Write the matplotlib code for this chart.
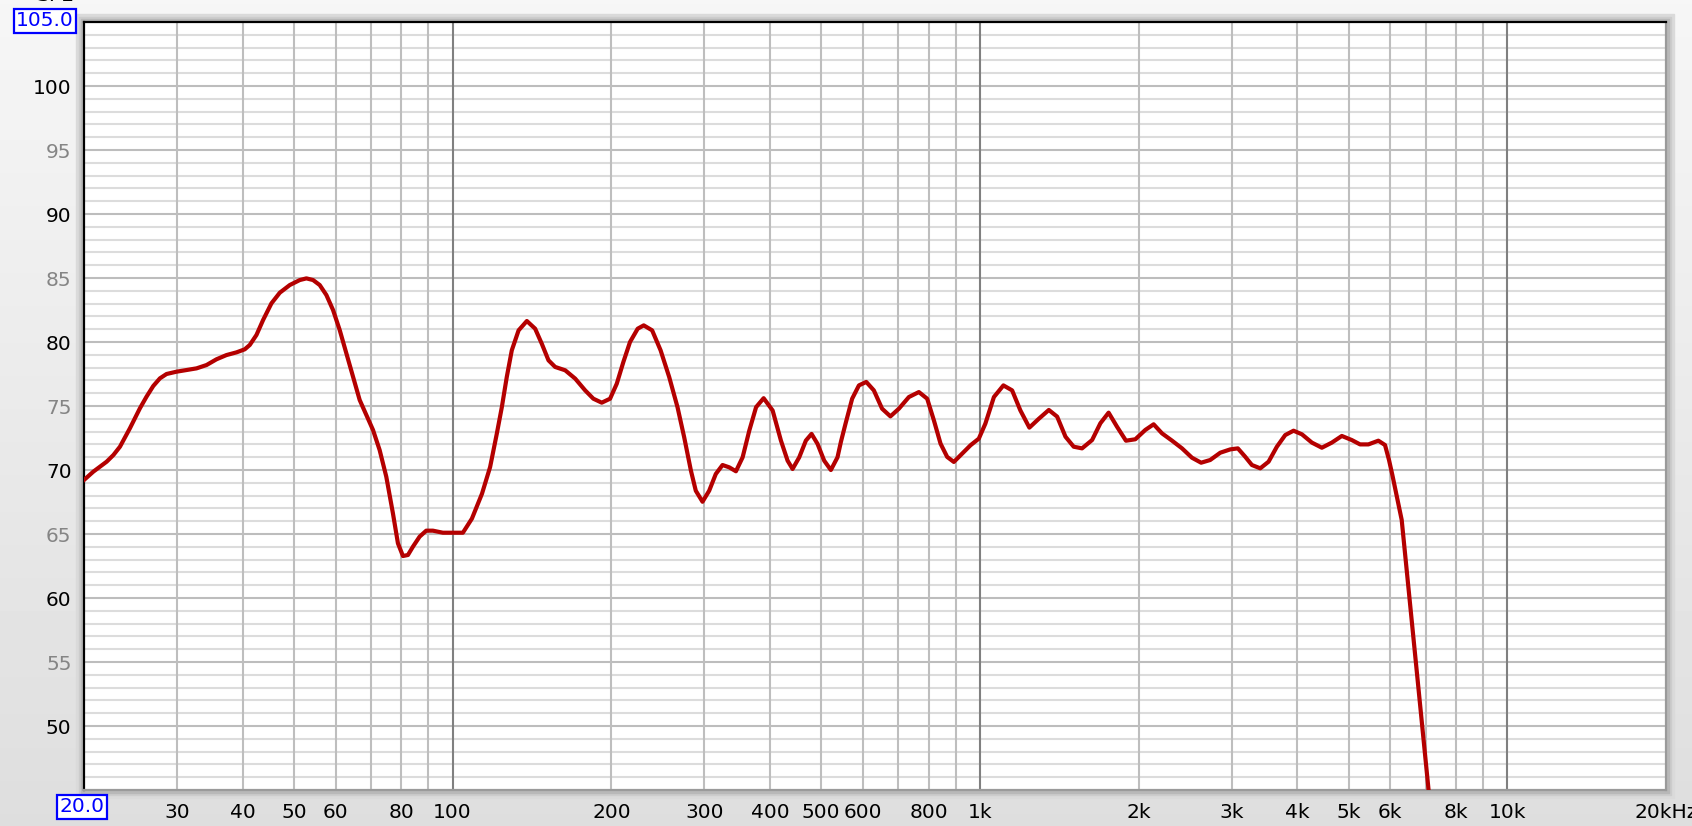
import numpy as np
import matplotlib
matplotlib.use("Agg")
import matplotlib.pyplot as plt
from matplotlib.patches import Rectangle

# frequency response (Hz, dB SPL)
freq = [20, 20.83, 22.08, 22.74, 23.40, 24.44, 25.53, 26.28, 27.06, 27.86, 28.68, 29.95,
        32.69, 34.15, 35.67, 37.26, 38.92, 40.36, 41.25, 42.47, 43.72, 45.34, 47.02, 49.12,
        51.31, 52.82, 54.38, 55.98, 57.63, 59.33, 61.08, 62.88, 64.74, 66.65, 68.61, 70.64,
        72.72, 74.86, 77.07, 78.77, 80.51, 82.29, 84.10, 86.58, 89.13, 91.76, 95.85, 100.1,
        104.6, 108.8, 113.7, 117.8, 121.3, 124.0, 126.7, 129.5, 133.4, 138.3, 143.4, 147.6,
        152.0, 156.5, 163.5, 170.8, 178.4, 184.9, 191.8, 198.9, 204.8, 210.8, 217.0, 224.4,
        230.4, 239.0, 248.0, 257.5, 267.0, 274.9, 283.1, 289.2, 297.8, 306.6, 315.6, 325.0,
        334.6, 344.6, 354.8, 365.3, 376.3, 388.9, 404.5, 419.4, 431.8, 441.3, 454.3, 467.7,
        479.4, 492.1, 506.6, 521.6, 536.9, 545.0, 556.1, 572.4, 589.6, 608.8, 629.3, 652.3,
        676.5, 702.0, 733.3, 766.0, 794.3, 817.9, 842.0, 866.8, 892.3, 925.4, 959.6, 995.2,
        1024, 1063, 1108, 1151, 1193, 1241, 1293, 1351, 1401, 1453, 1506, 1562,
        1632, 1692, 1754, 1819, 1892, 1971, 2059, 2135, 2215, 2314, 2417, 2524,
        2627, 2733, 2856, 2983, 3084, 3184, 3279, 3401, 3527, 3657, 3793, 3933,
        4079, 4261, 4451, 4649, 4856, 5072, 5259, 5453, 5696, 5864, 5967, 6055,
        6127, 6307, 6587, 7093, 7300]
spl = [69.22, 69.87, 70.65, 71.17, 71.82, 73.26, 74.82, 75.73, 76.56, 77.16, 77.50, 77.68,
       77.94, 78.20, 78.65, 78.98, 79.19, 79.43, 79.77, 80.55, 81.72, 83.02, 83.85, 84.45,
       84.84, 84.97, 84.84, 84.45, 83.67, 82.50, 80.94, 79.11, 77.29, 75.47, 74.30, 73.13,
       71.56, 69.48, 66.61, 64.27, 63.28, 63.36, 64.01, 64.79, 65.26, 65.26, 65.10, 65.10,
       65.10, 66.2, 68.15, 70.23, 72.84, 74.92, 77.27, 79.35, 80.91, 81.64, 81.04, 79.87,
       78.57, 78.05, 77.79, 77.14, 76.22, 75.57, 75.26, 75.57, 76.74, 78.44, 80.0, 81.04,
       81.3, 80.91, 79.35, 77.26, 74.91, 72.56, 69.95, 68.38, 67.52, 68.38, 69.69, 70.39,
       70.21, 69.9, 70.99, 73.08, 74.91, 75.61, 74.65, 72.3, 70.73, 70.08, 70.99, 72.3,
       72.82, 72.04, 70.73, 70.0, 70.99, 72.2, 73.62, 75.57, 76.61, 76.88, 76.22, 74.79,
       74.19, 74.79, 75.7, 76.09, 75.57, 73.88, 72.06, 71.02, 70.63, 71.28, 71.93, 72.45,
       73.62, 75.7, 76.61, 76.22, 74.66, 73.31, 74.0, 74.69, 74.17, 72.6, 71.82, 71.69,
       72.34, 73.65, 74.48, 73.39, 72.29, 72.4, 73.13, 73.57, 72.86, 72.29, 71.69, 70.96,
       70.57, 70.78, 71.35, 71.61, 71.69, 71.04, 70.39, 70.13, 70.65, 71.82, 72.73, 73.07,
       72.79, 72.14, 71.74, 72.14, 72.66, 72.34, 72.0, 72.0, 72.29, 71.95, 70.78, 69.61,
       68.6, 66.1, 58.3, 45.0, 39.8]

xtick_vals = [30, 40, 50, 60, 80, 100, 200, 300, 400, 500, 600, 800,
              1000, 2000, 3000, 4000, 5000, 6000, 8000, 10000, 20000]
xtick_labels = ["30", "40", "50", "60", "80", "100", "200", "300", "400", "500", "600", "800",
                "1k", "2k", "3k", "4k", "5k", "6k", "8k", "10k", "20kHz"]
ytick_vals = [50, 55, 60, 65, 70, 75, 80, 85, 90, 95, 100]

W, H = 1692, 826
fig = plt.figure(figsize=(W / 100, H / 100), dpi=100)

# grey gradient background
bg = fig.add_axes([0, 0, 1, 1], zorder=-10)
grad = np.linspace(0.965, 0.87, 200).reshape(-1, 1)
bg.imshow(grad, cmap="gray", vmin=0, vmax=1, aspect="auto", extent=[0, 1, 0, 1])
bg.set_axis_off()

L, R, T, B = 84, 1666, 22, 790
def fx(p):
    return p / W
def fy(p):
    return 1 - p / H

# frame shadow
for pad, col in [(8, "#dadada"), (5, "#cccccc"), (3, "#b8b8b8")]:
    fig.patches.append(Rectangle((fx(L - pad), fy(B + pad)), fx(R - L + 2 * pad), (B - T + 2 * pad) / H,
                                 transform=fig.transFigure, color=col, zorder=-5))

ax = fig.add_axes([fx(L), fy(B), fx(R - L), (B - T) / H])
ax.set_xscale("log")
ax.set_xlim(20, 20000)
ax.set_ylim(45, 105)

# horizontal grid
for v in range(46, 105):
    major = v % 5 == 0
    ax.axhline(v, color="#bdbdbd" if major else "#dcdcdc", lw=1.5, zorder=1)
# vertical grid
for dec in [10, 100, 1000, 10000]:
    for m in range(1, 10):
        f = dec * m
        if f <= 20 or f >= 20000:
            continue
        ax.axvline(f, color="#808080" if m == 1 else "#bebebe", lw=1.5, zorder=1)

ax.plot(freq, spl, color="#b40000", lw=3, solid_joinstyle="round", zorder=3)

ax.set_xticks(xtick_vals)
ax.set_xticklabels(xtick_labels)
ax.xaxis.set_minor_locator(matplotlib.ticker.NullLocator())
ax.set_yticks(ytick_vals)
ax.set_yticklabels([str(v) for v in ytick_vals])
for lab, v in zip(ax.get_yticklabels(), ytick_vals):
    lab.set_color("black" if v % 10 == 0 else "#858585")
ax.tick_params(axis="both", length=0, labelsize=14.5)
ax.tick_params(axis="x", pad=9)
ax.tick_params(axis="y", pad=9)

for s in ["left", "top"]:
    ax.spines[s].set_color("black")
    ax.spines[s].set_linewidth(1.6)
for s in ["right", "bottom"]:
    ax.spines[s].set_color("#9a9a9a")
    ax.spines[s].set_linewidth(1.6)

box = dict(boxstyle="square,pad=0.12", fc="white", ec="#0000ff", lw=1.6)
fig.text(fx(45), fy(21), "105.0", color="#0000ff", fontsize=14.5, ha="center", va="center", bbox=box)
fig.text(fx(82), fy(807), "20.0", color="#0000ff", fontsize=14.5, ha="center", va="center", bbox=box)
fig.text(fx(55), fy(5), "SPL", color="black", fontsize=14.5, ha="center", va="bottom")

fig.savefig("out.png", dpi=100)
